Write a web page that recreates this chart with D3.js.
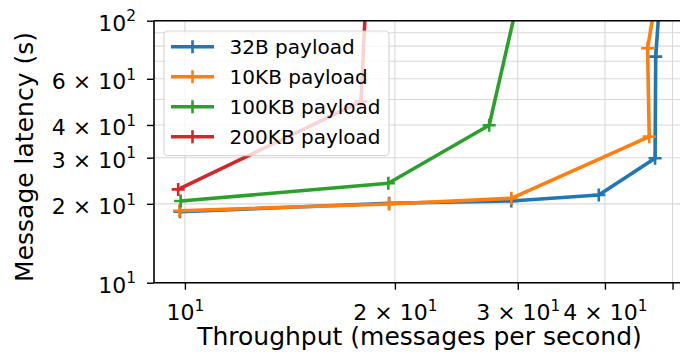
<!DOCTYPE html>
<html><head><meta charset="utf-8">
<script src="https://cdn.jsdelivr.net/npm/d3@7/dist/d3.min.js"></script>
<style>
body{margin:0;background:#fff;overflow:hidden}
svg{display:block}
text{font-family:"DejaVu Sans",sans-serif;fill:#000}
</style>
</head><body>
<svg id="chart" width="680" height="362"></svg>
<script>
// ---- data ----
const seriesNames = ["32B payload", "10KB payload", "100KB payload", "200KB payload"];
const seriesColors = ["#1f77b4", "#ff7f0e", "#2ca02c", "#d62728"];

const throughput32B = [9.84, 19.62, 29.37, 39.2, 47.2, 47.3, 48.2];
const latency32B    = [18.66, 20.1, 20.5, 21.6, 29.85, 72.9, 150];

const throughput10KB = [9.82, 19.62, 29.37, 46.3, 46.05, 47.96];
const latency10KB    = [18.83, 19.97, 21.0, 36.1, 78.5, 150];

const throughput100KB = [9.86, 19.57, 27.3, 30.6];
const latency100KB    = [20.5, 23.96, 39.9, 150];

const throughput200KB = [9.78, 17.88, 18.24];
const latency200KB    = [22.7, 49.1, 150];

const xTickValues = [10, 20, 30, 40, 50];
const xTickLabels = ["10^1", "2 × 10^1", "3 × 10^1", "4 × 10^1", ""];
const yTickValues = [10, 20, 30, 40, 60, 100];
const yTickLabels = ["10^1", "2 × 10^1", "3 × 10^1", "4 × 10^1", "6 × 10^1", "10^2"];
const yGridValues = [10, 20, 30, 40, 50, 60, 70, 80, 90, 100];
const xDomain = [9.03, 52.1];
const yDomain = [10, 100];

const xLabel = "Throughput (messages per second)";
const yLabel = "Message latency (s)";

// ---- layout ----
const L = 154, R = 685, T = 20.7, B = 282.7;
const tickFont = 22, labelFont = 25, legendFont = 20;

const svg = d3.select("#chart");
const x = d3.scaleLog().domain(xDomain).range([L, R]);
const y = d3.scaleLog().domain(yDomain).range([B, T]);

const series = [
  {x: throughput32B, y: latency32B},
  {x: throughput10KB, y: latency10KB},
  {x: throughput100KB, y: latency100KB},
  {x: throughput200KB, y: latency200KB}
].map((s, i) => ({name: seriesNames[i], color: seriesColors[i], pts: s.x.map((v, j) => [v, s.y[j]])}));

svg.append("defs").append("clipPath").attr("id", "clip")
  .append("rect").attr("x", L).attr("y", T).attr("width", R - L).attr("height", B - T);

// grid
const grid = svg.append("g").attr("stroke", "#d8d8d8").attr("stroke-width", 1.1);
grid.selectAll(".gx").data(xTickValues).join("line")
  .attr("x1", d => x(d)).attr("x2", d => x(d)).attr("y1", T).attr("y2", B);
grid.selectAll(".gy").data(yGridValues).join("line")
  .attr("x1", L).attr("x2", R).attr("y1", d => y(d)).attr("y2", d => y(d));

// lines
const plot = svg.append("g").attr("clip-path", "url(#clip)");
const line = d3.line().x(d => x(d[0])).y(d => y(d[1]));
const plusPath = "M-6.5,0H6.5M0,-6.5V6.5";
series.forEach(s => {
  plot.append("path").attr("d", line(s.pts)).attr("fill", "none")
    .attr("stroke", s.color).attr("stroke-width", 3.6).attr("stroke-linejoin", "round").attr("stroke-linecap", "butt");
  plot.selectAll(null).data(s.pts).join("path")
    .attr("transform", d => `translate(${x(d[0])},${y(d[1])})`)
    .attr("d", plusPath).attr("stroke", s.color).attr("stroke-width", 2.6).attr("fill", "none");
});

function setLabel(sel, label, fs) {
  sel.text(null);
  const parts = label.split("^");
  sel.append("tspan").text(parts[0]);
  if (parts[1]) sel.append("tspan").attr("dy", -0.42 * fs).attr("font-size", fs * 0.7).text(parts[1]);
}

// axes
const xAxis = d3.axisBottom(x).tickValues(xTickValues).tickFormat(() => "").tickSize(7).tickSizeOuter(0);
const gx = svg.append("g").attr("transform", `translate(0,${B})`).call(xAxis);
gx.select(".domain").remove();
gx.selectAll(".tick line").attr("stroke", "#000").attr("stroke-width", 1.4);
gx.selectAll(".tick text").attr("y", 37.3).attr("dy", null).attr("font-size", tickFont)
  .attr("font-family", "DejaVu Sans").attr("text-anchor", "middle")
  .each(function(d, i) { setLabel(d3.select(this), xTickLabels[i], tickFont); });

const yAxis = d3.axisLeft(y).tickValues(yTickValues).tickFormat(() => "").tickSize(7).tickSizeOuter(0);
const gy = svg.append("g").attr("transform", `translate(${L},0)`).call(yAxis);
gy.select(".domain").remove();
gy.selectAll(".tick line").attr("stroke", "#000").attr("stroke-width", 1.4);
gy.selectAll(".tick text").attr("x", -18).attr("dy", 9.5).attr("font-size", tickFont)
  .attr("font-family", "DejaVu Sans").attr("text-anchor", "end")
  .each(function(d, i) { setLabel(d3.select(this), yTickLabels[i], tickFont); });

// spines
const sp = svg.append("g").attr("stroke", "#000").attr("stroke-width", 1.6).attr("fill", "none");
sp.append("line").attr("x1", L).attr("x2", L).attr("y1", T).attr("y2", B);
sp.append("line").attr("x1", L).attr("x2", R).attr("y1", B).attr("y2", B);
sp.append("line").attr("x1", L).attr("x2", R).attr("y1", T).attr("y2", T);
sp.append("line").attr("x1", R).attr("x2", R).attr("y1", T).attr("y2", B);

// axis labels
svg.append("text").attr("x", 419.5).attr("y", 345).attr("text-anchor", "middle")
  .attr("font-size", labelFont).text(xLabel);
svg.append("text").attr("transform", "translate(33,157) rotate(-90)").attr("text-anchor", "middle")
  .attr("font-size", labelFont).text(yLabel);

// legend
const lg = svg.append("g");
lg.append("rect").attr("x", 164).attr("y", 31).attr("width", 225).attr("height", 124.7).attr("rx", 4)
  .attr("fill", "#fff").attr("fill-opacity", 0.8).attr("stroke", "#cccccc").attr("stroke-opacity", 0.8).attr("stroke-width", 1.2);
const rows = lg.selectAll(".row").data(series).join("g")
  .attr("transform", (d, i) => `translate(0,${46.7 + i * 30})`);
rows.append("line").attr("x1", 171).attr("x2", 214).attr("y1", 0).attr("y2", 0)
  .attr("stroke", d => d.color).attr("stroke-width", 3.6);
rows.append("path").attr("transform", "translate(192.5,0)").attr("d", plusPath)
  .attr("stroke", d => d.color).attr("stroke-width", 2.6);
rows.append("text").attr("x", 229.6).attr("y", 7.2).attr("font-size", legendFont).text(d => d.name);
</script>
</body></html>
